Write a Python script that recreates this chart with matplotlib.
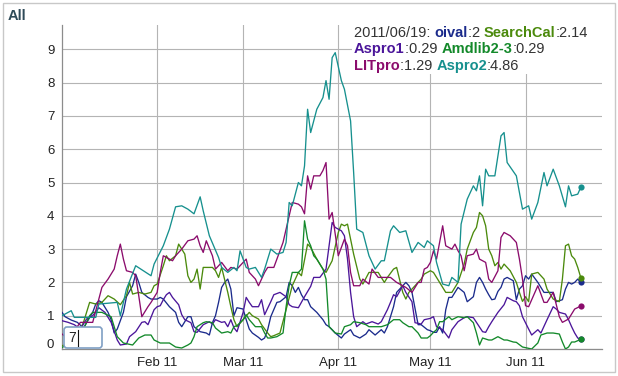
import numpy as np
import matplotlib
matplotlib.use("Agg")
import matplotlib.pyplot as plt
import matplotlib.dates as mdates
from matplotlib.patches import FancyBboxPatch, Rectangle
from matplotlib.lines import Line2D
from matplotlib.text import Annotation
from matplotlib.transforms import IdentityTransform, ScaledTranslation

plt.rcParams['font.family'] = ['Liberation Sans', 'DejaVu Sans']

START = np.datetime64('2011-01-01')
TITLE = "All"
LEGEND_DATE = "2011/06/19"
ROLL_PERIOD = "7"

TICK_DATES = ['2011-02-01', '2011-03-01', '2011-04-01', '2011-05-01', '2011-06-01']
TICK_LABELS = ['Feb 11', 'Mar 11', 'Apr 11', 'May 11', 'Jun 11']
Y_TICKS = [0, 1, 2, 3, 4, 5, 6, 7, 8, 9]

oival_days = [0,1,3,5,7,10,11,12,13,15,16,17,18,20,21,23,24,25,26,28,29,31,32,33,35,37,38,39,41,42,43,45,47,48,49,50,51,52,53,54,55,56,57,59,60,61,62,64,65,66,67,68,70,71,73,74,75,76,77,78,79,80,81,83,85,86,87,89,91,92,94,95,97,99,100,102,104,105,106,108,109,111,112,113,114,116,117,119,120,121,122,123,124,125,126,127,129,131,132,134,135,136,137,138,139,140,141,142,143,144,145,147,148,149,150,151,152,153,155,157,158,160,161,163,164,165,166,167,168,169]
oival_vals = [1.1,0.97,0.87,0.8,0.63,1.1,1.35,1.45,1.4,1.1,0.88,0.48,0.6,1.1,1.57,1.9,2.25,2.0,1.7,1.55,1.5,1.5,1.55,1.5,1.27,1.1,0.8,0.67,0.97,0.97,0.67,0.52,0.48,0.42,0.79,1.0,1.4,1.85,2.0,2.1,1.8,1.0,1.24,1.2,0.88,0.6,0.48,0.35,0.27,0.33,0.58,0.97,1.4,1.42,1.57,2.0,1.9,1.7,1.85,1.63,1.48,1.48,1.27,1.1,0.88,0.73,0.67,0.48,0.33,0.45,0.58,0.42,0.33,0.45,0.58,0.42,0.58,0.48,0.67,1.27,1.7,1.9,2.0,1.9,1.7,0.73,0.73,0.58,0.55,0.5,0.5,0.67,0.48,1.18,1.55,1.55,1.85,1.7,1.42,1.57,2.0,2.15,2.0,1.8,1.63,1.48,1.5,1.73,1.85,2.1,2.15,2.05,1.48,1.8,1.9,2.2,2.1,2.25,2.0,1.7,1.7,1.7,1.42,1.48,1.8,2.0,1.95,2.0,2.1,2.0]

searchcal_days = [0,4,7,9,11,13,15,17,19,21,22,23,25,27,29,30,31,33,34,35,37,38,39,40,41,42,43,44,45,46,48,49,50,51,52,54,55,56,57,59,61,62,64,65,67,68,69,71,73,75,77,78,80,81,83,85,86,88,90,91,92,93,94,95,97,98,100,101,103,105,106,108,109,111,112,113,115,117,118,120,121,123,125,126,127,129,131,132,134,135,136,137,138,139,140,141,142,143,144,146,148,149,150,151,152,153,155,157,158,160,162,163,164,165,166,167,168,169]
searchcal_vals = [0.1,0.2,0.8,1.4,1.35,1.4,1.6,1.5,1.33,1.6,2.0,1.65,1.7,1.65,1.7,1.9,1.95,2.5,2.8,2.65,2.8,3.15,3.0,2.85,2.2,2.0,2.1,2.4,1.8,2.45,2.45,2.45,2.35,2.15,2.45,1.7,1.27,0.88,0.67,0.88,1.1,1.0,0.9,0.73,0.48,0.37,0.4,0.48,1.18,1.9,2.3,2.2,3.15,3.05,2.7,2.4,2.3,2.65,3.5,3.75,3.7,3.75,3.3,2.85,2.1,1.95,2.3,2.3,2.3,2.0,2.15,2.4,2.45,1.7,1.5,1.7,1.9,2.1,2.25,2.35,2.3,2.0,1.7,1.7,1.7,2.0,2.55,3.0,3.5,3.65,4.1,4.0,3.7,3.0,2.8,2.5,2.6,2.4,2.55,2.35,2.0,1.7,1.43,1.57,1.42,2.25,2.3,2.1,1.8,1.5,1.42,2.1,3.1,3.15,2.8,2.7,2.45,2.14]

aspro1_days = [0,2,4,6,8,10,12,14,16,18,19,21,22,24,26,27,28,30,31,32,33,34,35,36,38,39,40,42,43,44,46,48,49,50,52,53,54,55,56,57,59,60,61,62,64,65,66,68,69,71,73,74,75,77,79,81,82,84,86,87,88,89,91,92,93,94,95,96,98,99,101,103,104,106,107,108,109,111,112,114,115,117,118,120,121,122,124,126,127,129,131,132,134,135,137,138,139,140,142,144,145,147,148,149,150,152,153,155,156,158,160,161,162,164,165,166,167,168,169]
aspro1_vals = [0.85,0.8,0.73,0.6,0.9,1.0,1.24,1.1,0.8,0.27,0.12,0.15,0.37,0.52,0.8,0.82,0.73,1.18,1.27,1.3,1.48,1.63,1.7,1.55,1.33,1.03,0.88,0.79,0.52,0.5,0.73,0.82,0.75,0.88,0.8,0.82,0.67,0.88,0.64,0.52,1.1,1.55,1.4,1.27,1.27,1.48,1.03,1.42,1.63,1.7,1.57,1.33,1.27,1.24,1.57,1.88,2.15,2.15,2.4,3.1,3.8,3.65,3.55,3.4,2.7,1.7,0.97,0.67,0.82,0.75,0.82,0.75,0.82,1.18,1.4,1.63,1.57,1.9,1.7,1.42,0.79,0.75,0.88,0.92,0.97,0.67,0.58,0.33,0.58,0.82,0.94,0.97,0.94,0.8,0.52,0.5,0.67,0.82,1.1,1.33,1.55,1.45,1.42,1.3,0.97,0.6,0.42,0.58,0.48,0.88,1.27,1.2,1.1,1.05,0.88,0.67,0.48,0.33,0.29]

amdlib_days = [0,4,7,9,10,13,16,17,18,20,23,25,27,29,30,32,35,37,39,41,42,43,44,46,47,49,50,52,54,55,56,57,59,60,61,63,65,66,67,68,70,72,73,74,75,77,78,79,80,81,82,83,85,86,87,88,89,91,92,94,95,97,99,100,101,104,106,108,110,111,113,114,116,117,119,120,121,122,123,124,126,127,129,131,132,134,135,136,137,139,140,142,144,145,147,148,150,152,153,155,156,158,160,162,163,164,165,166,167,169]
amdlib_vals = [0.05,0.2,0.6,1.0,1.1,1.1,0.97,0.67,0.37,0.18,0.12,0.33,0.42,0.42,0.27,0.18,0.18,0.06,0.03,0.12,0.18,0.37,0.67,0.79,0.82,0.79,0.63,0.48,0.52,0.48,0.67,0.7,0.88,1.03,0.88,0.67,0.67,0.48,0.33,0.33,0.37,0.48,1.27,1.9,2.3,2.3,2.4,3.85,3.3,3.1,2.8,2.7,2.4,2.1,0.67,0.58,0.48,0.45,0.67,0.73,0.82,0.79,0.73,0.67,0.67,0.67,0.73,0.88,0.88,0.79,0.67,0.67,0.48,0.33,0.33,0.4,0.5,0.58,0.82,0.82,0.97,0.88,0.97,0.94,0.97,0.79,0.48,0.12,0.33,0.27,0.27,0.37,0.27,0.27,0.21,0.2,0.06,0.02,0.0,0.18,0.42,0.48,0.48,0.45,0.21,0.0,0.06,0.21,0.21,0.29]

litpro_days = [0,2,6,10,13,15,17,18,19,20,21,23,24,25,26,28,29,31,32,33,35,36,37,39,41,43,44,45,46,47,49,50,51,52,54,55,57,59,60,61,63,64,66,67,69,70,72,74,75,77,78,79,80,81,82,84,85,86,87,88,90,91,92,93,94,95,97,98,100,101,103,105,107,109,112,114,116,117,118,119,120,121,122,124,125,127,128,129,130,131,132,134,135,136,138,139,140,142,143,144,146,148,149,150,151,152,155,157,158,160,162,163,165,167,169]
litpro_vals = [0.45,0.3,0.8,0.8,1.85,2.1,2.4,2.8,3.15,2.7,2.35,2.3,2.2,1.6,0.97,1.27,1.4,1.7,2.3,2.8,2.7,2.65,2.8,3.0,3.25,3.3,3.4,3.1,2.9,3.25,2.8,2.4,2.5,2.6,2.35,2.45,2.4,2.6,2.7,2.3,2.1,1.9,2.3,2.45,2.45,2.7,3.2,4.0,4.4,4.35,4.27,4.06,5.2,4.8,5.2,5.2,5.36,5.6,3.9,4.1,2.8,3.05,3.3,3.1,2.3,1.9,1.9,2.1,1.95,2.4,2.15,2.15,2.15,2.0,1.85,1.7,2.0,2.0,2.4,2.45,2.6,2.95,2.7,3.7,3.1,3.0,3.15,2.95,2.8,2.35,2.8,2.85,3.0,2.7,2.6,2.1,2.0,2.35,3.35,3.5,3.4,3.2,2.7,2.1,1.3,1.27,1.9,1.4,1.4,1.7,0.97,0.8,0.9,1.2,1.29]

aspro2_days = [0,3,4,11,12,18,19,21,24,29,30,33,35,37,39,41,43,45,46,48,51,52,54,56,57,58,60,61,63,65,66,68,70,72,73,74,75,77,78,79,80,81,83,85,86,87,88,89,91,92,94,95,96,98,100,102,104,105,107,108,110,112,114,116,118,119,121,122,124,126,127,129,130,132,134,135,136,137,138,139,141,143,144,145,148,150,152,153,155,157,158,160,162,164,165,166,168,169]
aspro2_vals = [1.0,1.15,0.95,0.95,1.35,1.4,1.0,1.8,2.5,2.2,2.55,3.1,3.6,4.27,4.3,4.2,4.06,4.57,4.15,3.4,2.75,2.45,2.3,2.45,2.35,2.95,2.45,2.4,2.45,2.15,2.4,3.0,2.85,2.9,3.2,4.4,4.3,5.0,4.9,5.5,7.2,6.5,7.2,7.55,8.06,7.5,8.75,8.9,8.06,7.8,6.85,5.3,3.6,3.5,2.8,2.4,2.65,2.65,3.55,3.7,3.5,3.55,2.9,3.2,3.05,3.25,3.1,2.6,1.95,1.9,2.15,2.0,3.75,4.5,4.9,4.75,5.2,4.3,5.4,5.2,5.2,6.4,6.5,5.6,5.2,4.2,4.3,3.9,4.4,5.3,4.9,5.4,4.9,4.27,4.9,4.6,4.65,4.86]

SERIES = [
    ("oival", oival_days, oival_vals, "#1b2b8c"),
    ("SearchCal", searchcal_days, searchcal_vals, "#4b8a0c"),
    ("Aspro1", aspro1_days, aspro1_vals, "#4b169a"),
    ("Amdlib2-3", amdlib_days, amdlib_vals, "#13892a"),
    ("LITpro", litpro_days, litpro_vals, "#8b0c6c"),
    ("Aspro2", aspro2_days, aspro2_vals, "#16908e"),
]

W, H = 618, 376
fig = plt.figure(figsize=(W / 100, H / 100), dpi=100)
fig.patch.set_facecolor("white")

# plot area in pixels: x 62..602, y 25..349
ax = fig.add_axes([62 / W, 1 - 349 / H, (602 - 62) / W, (349 - 25) / H])

def to_dates(days):
    return START + np.array(days, dtype='timedelta64[D]')

for name, d, v, c in SERIES:
    ax.plot(to_dates(d), v, color=c, lw=0.95, zorder=3, solid_joinstyle='round')
for name, d, v, c in SERIES:
    ax.scatter(to_dates(d[-1:]), v[-1:], s=20, color=c, zorder=5, linewidths=0)

x0 = mdates.date2num(START)
ax.set_xlim(x0, x0 + 175.9)
ax.set_ylim(0, 9.73)

ax.set_xticks([mdates.date2num(np.datetime64(t)) for t in TICK_DATES])
ax.set_xticklabels(TICK_LABELS)
ax.set_yticks(Y_TICKS)
ax.set_yticklabels([str(t) for t in Y_TICKS])

ax.grid(True, color="#b4b4b4", lw=0.8)
ax.set_axisbelow(True)
ax.tick_params(length=0, labelsize=9.5, colors="#222222")
ax.tick_params(axis='y', pad=5.5)
ax.tick_params(axis='x', pad=6)
for s in ['top', 'right']:
    ax.spines[s].set_visible(False)
for s in ['left', 'bottom']:
    ax.spines[s].set_color("#8c8c8c")
    ax.spines[s].set_linewidth(0.9)

# raise the "0" label like the original
lbl0 = ax.get_yticklabels()[0]
lbl0.set_transform(lbl0.get_transform() + ScaledTranslation(0, 6 / 100, fig.dpi_scale_trans))

ident = IdentityTransform()
# outer border
fig.add_artist(Rectangle((3, H - 372), 612, 369, transform=ident, fill=False,
                         edgecolor="#c8c8c8", lw=1.0, zorder=0))

# title
fig.text(8 / W, 1 - 16 / H, TITLE, fontsize=10.5, fontweight='bold', color="#2e4a58",
         ha='left', va='center')

# legend background and text
fig.add_artist(Rectangle((352, H - 74), 253, 50, transform=ident, facecolor='white',
                         edgecolor='none', zorder=4))
fs = 10.5
txtc = "#333333"
vals = {name: v[-1] for name, d, v, c in SERIES}
cols = {name: c for name, d, v, c in SERIES}
rows = [["oival", "SearchCal"], ["Aspro1", "Amdlib2-3"], ["LITpro", "Aspro2"]]
row_y = [33, 49, 66]
for ri, (row, yy) in enumerate(zip(rows, row_y)):
    pieces = []
    if ri == 0:
        pieces.append((LEGEND_DATE + ": ", txtc, 'normal'))
    for k, nm in enumerate(row):
        pieces.append((nm, cols[nm], 'bold'))
        sep = " " if k < len(row) - 1 else ""
        pieces.append((":" + f"{vals[nm]:g}" + sep, txtc, 'normal'))
    s0, c0, fw0 = pieces[0]
    prev = fig.text(354 / W, 1 - yy / H, s0, color=c0, fontweight=fw0, fontsize=fs,
                    ha='left', va='center', zorder=6)
    for s, c, fw in pieces[1:]:
        ann = Annotation(s, xy=(1, 0), xycoords=prev, color=c, fontweight=fw,
                         fontsize=fs, ha='left', va='bottom', annotation_clip=False)
        ann.set_zorder(6)
        fig.add_artist(ann)
        prev = ann

# roll period box
box = FancyBboxPatch((64, H - 348), 38, 21, boxstyle="round,pad=0,rounding_size=3",
                     transform=ident, facecolor='white', edgecolor="#7f9fc4", lw=1.2, zorder=7)
fig.add_artist(box)
fig.text(68 / W, 1 - 338 / H, ROLL_PERIOD, fontsize=10, color="#222222", ha='left',
         va='center', zorder=8)
fig.add_artist(Line2D([77.5, 77.5], [H - 346, H - 330], transform=ident, color="#111111",
                      lw=0.8, zorder=8))

fig.savefig("out.png", dpi=100)
